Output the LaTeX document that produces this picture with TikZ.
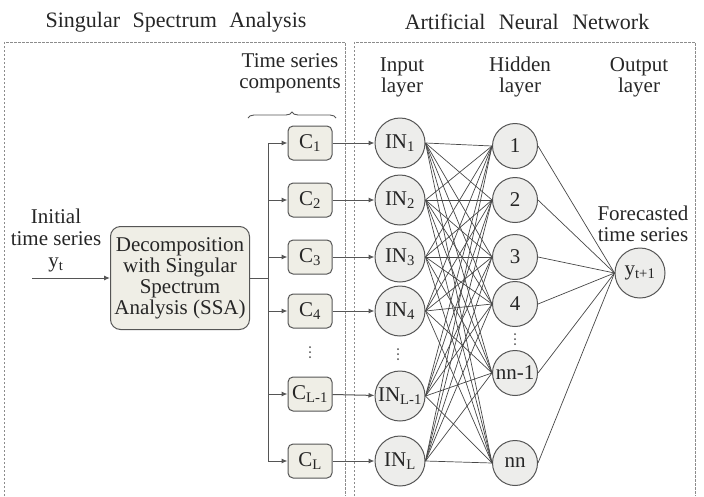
\documentclass[tikz,border=0pt]{standalone}
\usepackage{fontspec}
\setmainfont{Liberation Serif}
\usetikzlibrary{arrows.meta, decorations.pathreplacing}

\definecolor{boxfill}{HTML}{EFEEE6}
\definecolor{cellfill}{HTML}{EDEDEB}
\definecolor{linegray}{HTML}{555555}
\definecolor{framegray}{HTML}{8C8C8C}

\begin{document}
\begin{tikzpicture}[x=1pt, y=-1pt, >={Latex[length=6pt, width=5pt]},
		every node/.style={font=\fontsize{21}{21}\selectfont, text=black!85},
		title/.style={font=\fontsize{22}{22}\selectfont},
		frame/.style={draw=framegray, line width=0.9pt, dash pattern=on 2.5pt off 1.5pt},
		comp/.style={rectangle, rounded corners=5pt, draw=linegray, fill=boxfill, line width=1pt, minimum width=44pt, minimum height=34pt, inner sep=0pt},
		ssabox/.style={rectangle, rounded corners=10pt, draw=linegray, fill=boxfill, line width=1pt, minimum width=139pt, minimum height=103pt, inner sep=0pt, align=center},
		neuron/.style={circle, draw=linegray, fill=cellfill, line width=1pt, minimum size=50pt, inner sep=0pt},
		hid/.style={neuron, minimum size=45pt},
		wire/.style={draw=black!72, line width=0.7pt},
		link/.style={draw=linegray, line width=1pt}]
		
		\useasboundingbox (0,0) rectangle (704,496);
		
		% Titles and frames
		\node[title] (tssa) at (176, 22) {Singular\hspace{7pt} Spectrum\hspace{7pt} Analysis};
		\node[title] (tann) at (527, 22) {Artificial\hspace{8pt} Neural\hspace{8pt} Network};
		\draw[frame] (4, 496) |- (345, 42) -- (345, 496);
		\draw[frame] (354, 496) |- (695, 42) -- (695, 496);
		
		% Labels
		\node[align=center] (lcomp) at (290, 73) {Time series\\components};
		\node[align=center] (lin) at (402, 77) {Input\\layer};
		\node[align=center] (lhid) at (520, 77) {Hidden\\layer};
		\node[align=center] (lout) at (639, 77) {Output\\layer};
		\node[align=center, font=\fontsize{21}{22}\selectfont] (linit) at (56, 240) {Initial\\time series\\y\textsubscript{t}};
		\node[align=center] (lfore) at (643, 224) {Forecasted\\time series};
		
		% Brace over the components
		\coordinate (br1) at (248, 118);
		\coordinate (br2) at (336, 118);
		\draw[link, line width=0.9pt, decorate, decoration={brace, amplitude=6pt}] (br1) -- (br2);
		
		% SSA
		\coordinate (yin) at (32, 278);
		\node[ssabox] (ssa) at (180, 278) {Decomposition\\with Singular\\Spectrum\\Analysis (SSA)};
		\coordinate (bus) at (268, 278);
		
		% Components
		\node[comp] (c1) at (310, 143) {C\textsubscript{1}};
		\node[comp] (c2) at (310, 200) {C\textsubscript{2}};
		\node[comp] (c3) at (310, 257) {C\textsubscript{3}};
		\node[comp] (c4) at (310, 311) {C\textsubscript{4}};
		\coordinate (cdots) at (310, 352);
		\node[comp] (cl1) at (310, 394) {C\textsubscript{L-1}};
		\node[comp] (cl) at (310, 461) {C\textsubscript{L}};
		
		% Input layer
		\node[neuron] (in1) at (400, 143) {IN\textsubscript{1}};
		\node[neuron] (in2) at (400, 200) {IN\textsubscript{2}};
		\node[neuron] (in3) at (400, 257) {IN\textsubscript{3}};
		\node[neuron] (in4) at (400, 311) {IN\textsubscript{4}};
		\coordinate (indots) at (398, 354);
		\node[neuron] (inl1) at (400, 396) {IN\textsubscript{L-1}};
		\node[neuron] (inl) at (400, 461) {IN\textsubscript{L}};
		
		% Hidden layer
		\node[hid] (h1) at (515, 146) {1};
		\node[hid] (h2) at (515, 200) {2};
		\node[hid] (h3) at (515, 257) {3};
		\node[hid] (h4) at (515, 304) {4};
		\coordinate (hdots) at (515, 339);
		\node[hid] (hn1) at (515, 373) {nn-1};
		\node[hid] (hn) at (515, 463) {nn};
		
		% Output layer
		\node[neuron] (out) at (640, 273) {y\textsubscript{t+1}};
		
		% Vertical dots
		\foreach \p in {cdots, indots, hdots}
			\foreach \d in {-5, 0, 5}
				\fill[black!70] ([yshift=\d pt]\p) circle (1pt);
		
		% SSA edges
		\draw[link, ->] (yin) -- (ssa);
		\draw[link] (ssa) -- (bus);
		\draw[link] (bus |- c1) -- (bus |- cl);
		\foreach \c in {c1, c2, c3, c4, cl1, cl}
			\draw[link, ->] (bus |- \c) -- (\c);
		
		% Components -> input layer
		\draw[link, ->] (c1) -- (in1);
		\draw[link, ->] (c2) -- (in2);
		\draw[link, ->] (c3) -- (in3);
		\draw[link, ->] (c4) -- (in4);
		\draw[link, ->] (cl1) -- (inl1);
		\draw[link, ->] (cl) -- (inl);
		
		% Input -> hidden -> output
		\foreach \i in {in1, in2, in3, in4, inl1, inl}
			\foreach \h in {h1, h2, h3, h4, hn1, hn}
				\draw[wire] (\i.east) -- (\h.west);
		\foreach \h in {h1, h2, h3, h4, hn1, hn}
			\draw[wire] (\h.east) -- (out.west);
		
	\end{tikzpicture}
\end{document}
